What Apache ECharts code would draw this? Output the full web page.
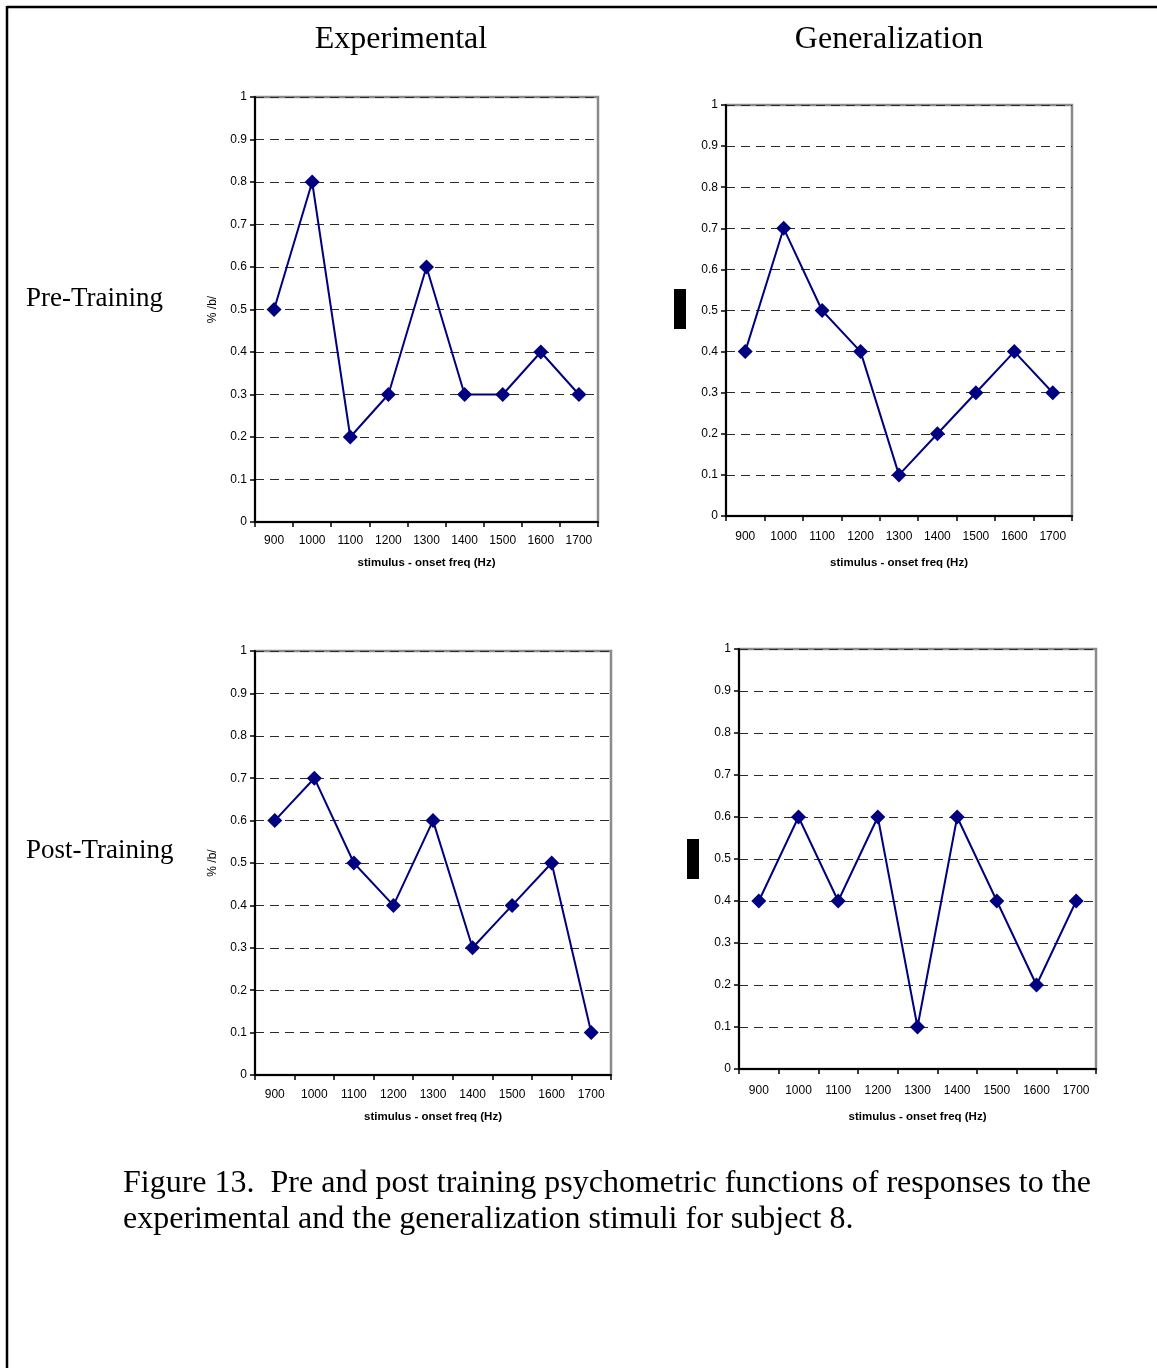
<!DOCTYPE html>
<html>
<head>
<meta charset="utf-8">
<script src="https://cdn.jsdelivr.net/npm/echarts@6/dist/echarts.min.js"></script>
<style>
  html, body { margin: 0; padding: 0; background: #ffffff; }
  #chart { width: 1157px; height: 1368px; }
</style>
</head>
<body>
<div id="chart"></div>
<script>
// Stimulus onset frequencies (Hz) shared by all four panels
const categories = ['900', '1000', '1100', '1200', '1300', '1400', '1500', '1600', '1700'];

// Proportion of /b/ responses per stimulus
const experimentalPre  = [0.5, 0.8, 0.2, 0.3, 0.6, 0.3, 0.3, 0.4, 0.3];
const generalizationPre  = [0.4, 0.7, 0.5, 0.4, 0.1, 0.2, 0.3, 0.4, 0.3];
const experimentalPost = [0.6, 0.7, 0.5, 0.4, 0.6, 0.3, 0.4, 0.5, 0.1];
const generalizationPost = [0.4, 0.6, 0.4, 0.6, 0.1, 0.6, 0.4, 0.2, 0.4];

const columnTitles = ['Experimental', 'Generalization'];
const rowTitles = ['Pre-Training', 'Post-Training'];
const xAxisTitle = 'stimulus - onset freq (Hz)';
const yAxisTitle = '% /b/';
const captionLines = [
  'Figure 13.  Pre and post training psychometric functions of responses to the',
  'experimental and the generalization stimuli for subject 8.'
];

const panelData = [experimentalPre, generalizationPre, experimentalPost, generalizationPost];

// Panel layout (plot areas in page pixels)
const panels = [
  { left: 255, top: 97,  width: 343, height: 425, yName: true,  labelMargin: 13, nameGap: 35 },
  { left: 726, top: 105, width: 346, height: 411, yName: false, labelMargin: 15, nameGap: 41 },
  { left: 255, top: 651, width: 356, height: 424, yName: true,  labelMargin: 14, nameGap: 36 },
  { left: 739, top: 649, width: 357, height: 420, yName: false, labelMargin: 16, nameGap: 42 }
];

const SANS = '"Liberation Sans", Arial, sans-serif';
const SERIF = '"Liberation Serif", "Times New Roman", serif';
const NAVY = '#000080';

const grids = panels.map(p => ({
  left: p.left, top: p.top, width: p.width, height: p.height,
  containLabel: false,
  outerBoundsMode: 'none',
  show: true,
  backgroundColor: 'transparent',
  borderColor: '#8a8a8a',
  borderWidth: 2.5
}));

const xAxes = panels.map((p, i) => ({
  type: 'category',
  gridIndex: i,
  data: categories,
  boundaryGap: true,
  name: xAxisTitle,
  nameLocation: 'middle',
  nameGap: p.nameGap,
  nameTextStyle: { fontFamily: SANS, fontSize: 11.5, fontWeight: 'bold', color: '#000' },
  axisLine: { show: true, onZero: false, lineStyle: { color: '#000', width: 2 } },
  axisTick: { show: true, length: 5, inside: false, lineStyle: { color: '#000', width: 1.5 } },
  axisLabel: { fontFamily: SANS, fontSize: 12, color: '#000', margin: p.labelMargin, interval: 0 },
  splitLine: { show: false }
}));

const yAxes = panels.map((p, i) => ({
  type: 'value',
  gridIndex: i,
  min: 0,
  max: 1,
  interval: 0.1,
  name: p.yName ? yAxisTitle : '',
  nameLocation: 'middle',
  nameRotate: 90,
  nameGap: 36,
  nameTextStyle: { fontFamily: SANS, fontSize: 12, color: '#000' },
  axisLine: { show: true, lineStyle: { color: '#000', width: 2 } },
  axisTick: { show: true, length: 5, inside: false, lineStyle: { color: '#000', width: 1.5 } },
  axisLabel: {
    fontFamily: SANS, fontSize: 12, color: '#000', margin: 8,
    formatter: v => (v === 0 || v === 1) ? String(v) : v.toFixed(1)
  },
  splitLine: { show: true, lineStyle: { color: '#2a2a2a', width: 1, type: [9, 6] } }
}));

const series = panelData.map((values, i) => ({
  type: 'line',
  xAxisIndex: i,
  yAxisIndex: i,
  data: values,
  symbol: 'diamond',
  symbolSize: 15,
  showAllSymbol: true,
  animation: false,
  lineStyle: { color: NAVY, width: 2 },
  itemStyle: { color: NAVY, borderWidth: 0 },
  z: 5
}));

const graphics = [
  // page frame (top and left rules)
  { type: 'line', shape: { x1: 7, y1: 7, x2: 1157, y2: 7 }, style: { stroke: '#000', lineWidth: 2.5 } },
  { type: 'line', shape: { x1: 7, y1: 6, x2: 7, y2: 1368 }, style: { stroke: '#000', lineWidth: 2.5 } },
  // column headings
  { type: 'text', x: 401, y: 40, style: { text: columnTitles[0], font: '32px ' + SERIF, fill: '#000', align: 'center', verticalAlign: 'middle' } },
  { type: 'text', x: 889, y: 40, style: { text: columnTitles[1], font: '32px ' + SERIF, fill: '#000', align: 'center', verticalAlign: 'middle' } },
  // row headings
  { type: 'text', x: 26, y: 299, style: { text: rowTitles[0], font: '27px ' + SERIF, fill: '#000', align: 'left', verticalAlign: 'middle' } },
  { type: 'text', x: 26, y: 851, style: { text: rowTitles[1], font: '27px ' + SERIF, fill: '#000', align: 'left', verticalAlign: 'middle' } },
  // blocked-out axis titles on the generalization panels
  { type: 'rect', shape: { x: 674, y: 289, width: 12, height: 40 }, style: { fill: '#000' } },
  { type: 'rect', shape: { x: 687, y: 839, width: 12, height: 40 }, style: { fill: '#000' } },
  // caption
  { type: 'text', x: 123, y: 1184, style: { text: captionLines[0], font: '32px ' + SERIF, fill: '#000', align: 'left', verticalAlign: 'middle' } },
  { type: 'text', x: 123, y: 1220, style: { text: captionLines[1], font: '32px ' + SERIF, fill: '#000', align: 'left', verticalAlign: 'middle' } }
];

const chart = echarts.init(document.getElementById('chart'), null, { renderer: 'canvas' });
chart.setOption({
  backgroundColor: '#ffffff',
  animation: false,
  grid: grids,
  xAxis: xAxes,
  yAxis: yAxes,
  series: series,
  graphic: graphics
});
</script>
</body>
</html>
